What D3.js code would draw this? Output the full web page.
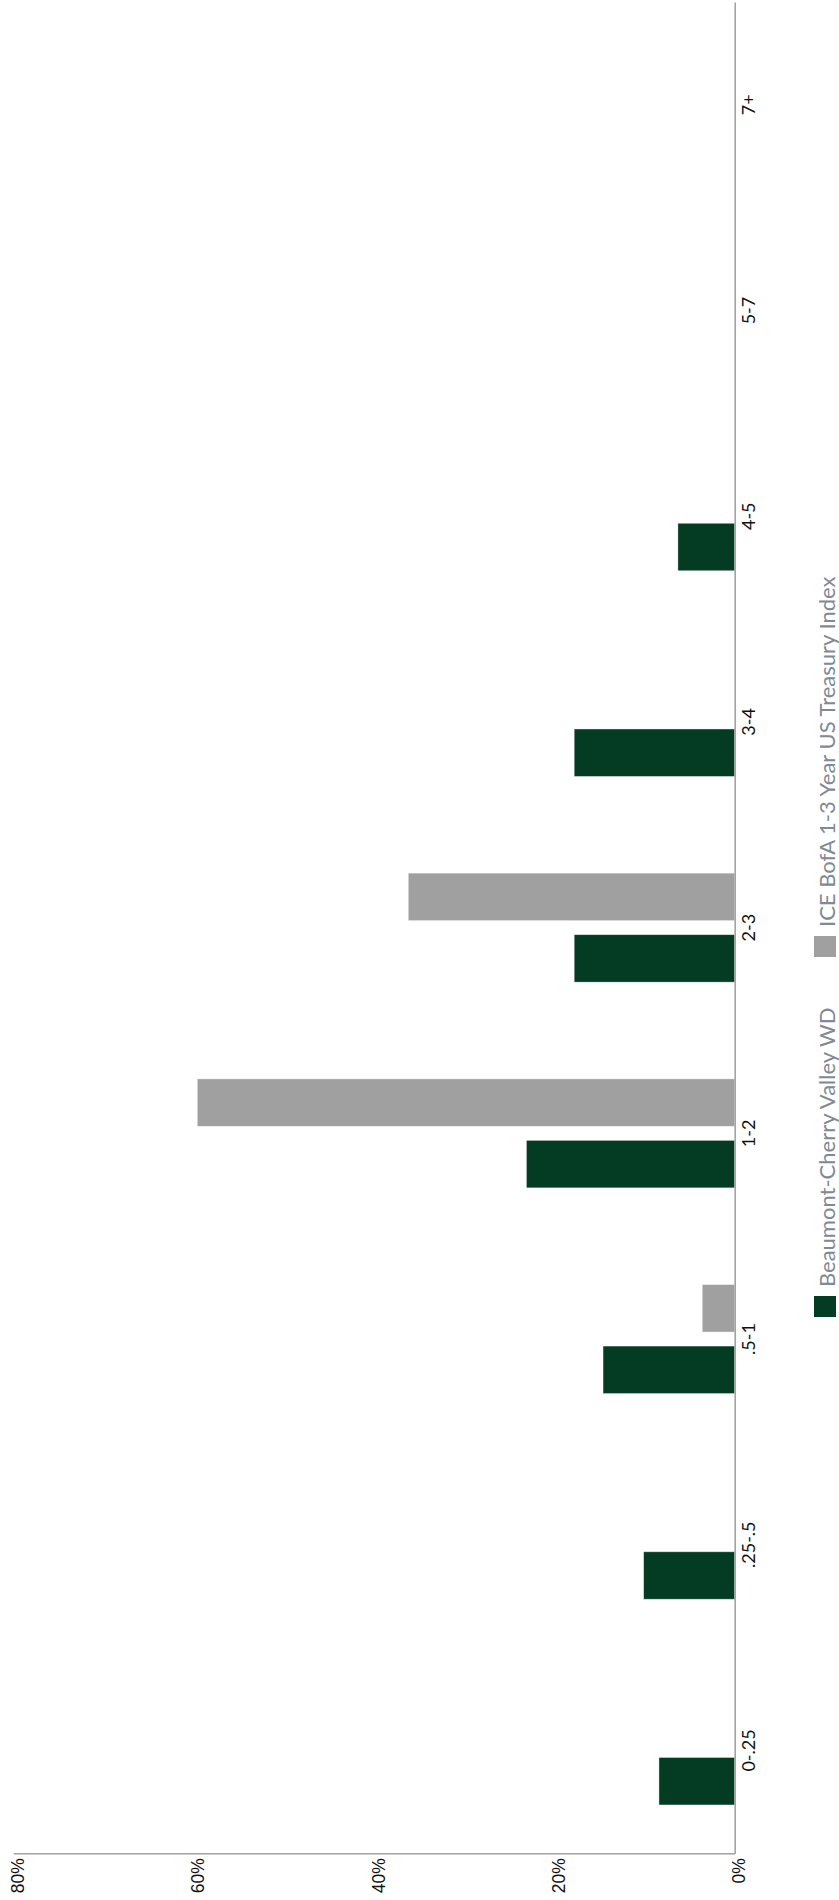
<!DOCTYPE html>
<html>
<head>
<meta charset="utf-8">
<script src="https://cdn.jsdelivr.net/npm/d3@7"></script>
<style>
  html, body { margin: 0; padding: 0; background: #ffffff; }
  svg { display: block; }
</style>
</head>
<body>
<div id="chart"></div>
<script>
// Maturity distribution: portfolio vs. benchmark (drawn rotated a quarter turn)
const categories = ["0-.25", ".25-.5", ".5-1", "1-2", "2-3", "3-4", "4-5", "5-7", "7+"];
const portfolioValues = [0.084, 0.101, 0.146, 0.231, 0.178, 0.178, 0.063, 0, 0];
const benchmarkValues = [0, 0, 0.036, 0.596, 0.362, 0, 0, 0, 0];
const seriesNames = ["Beaumont-Cherry Valley WD", "ICE BofA 1-3 Year US Treasury Index"];
const valueTicks = [0, 0.2, 0.4, 0.6, 0.8];

const W = 839, H = 1900;
const plot = { left: 13.3, zero: 734.7, top: 2, bottom: 1853.3 };
const colors = { port: "#033b23", bench: "#a0a0a0", axis: "#a6a29e", legendText: "#808a94" };

const svg = d3.select("#chart").append("svg")
  .attr("width", W).attr("height", H)
  .attr("viewBox", `0 0 ${W} ${H}`);

svg.append("rect").attr("width", W).attr("height", H).attr("fill", "#ffffff");

// value scale runs right-to-left (0% at the right-hand axis)
const x = d3.scaleLinear().domain([0, 0.8]).range([plot.zero, plot.left]);

// category scale runs bottom-to-top
const y0 = d3.scaleBand().domain(categories)
  .range([plot.bottom, plot.top])
  .paddingInner(0.47).paddingOuter(0.235);

const y1 = d3.scaleBand().domain(["bench", "port"])
  .range([0, y0.bandwidth()])
  .paddingInner(0.228);

const rows = categories.map((c, i) => ({
  cat: c,
  items: [
    { key: "port", value: portfolioValues[i] },
    { key: "bench", value: benchmarkValues[i] }
  ]
}));

// bars
const groups = svg.append("g").attr("class", "bars")
  .selectAll("g").data(rows).join("g")
  .attr("transform", d => `translate(0,${y0(d.cat)})`);

groups.selectAll("rect")
  .data(d => d.items.filter(it => it.value > 0))
  .join("rect")
  .attr("x", d => x(d.value))
  .attr("y", d => y1(d.key))
  .attr("width", d => x(0) - x(d.value))
  .attr("height", y1.bandwidth())
  .attr("fill", d => colors[d.key])
  .attr("stroke", "#ffffff")
  .attr("stroke-opacity", 0.5)
  .attr("stroke-width", 0.8);

// value axis along the bottom
const xAxis = svg.append("g")
  .attr("transform", `translate(0,${plot.bottom})`)
  .call(d3.axisBottom(x).tickValues(valueTicks).tickFormat(d3.format(".0%")).tickSize(0).tickSizeOuter(0));

xAxis.attr("font-family", null).attr("font-size", null);
xAxis.select(".domain").attr("stroke", colors.axis).attr("stroke-width", 1.6);
xAxis.selectAll(".tick text")
  .attr("font-family", "'Liberation Sans', Arial, sans-serif")
  .attr("font-size", 17.5)
  .attr("fill", "#111111")
  .attr("transform", "rotate(-90)")
  .attr("text-anchor", "end")
  .attr("x", -5)
  .attr("y", 4)
  .attr("dy", "0.35em");

// category axis on the right
const yAxis = svg.append("g")
  .attr("transform", `translate(${plot.zero},0)`)
  .call(d3.axisRight(y0).tickSize(0).tickSizeOuter(0));

yAxis.attr("font-family", null).attr("font-size", null);
yAxis.select(".domain").attr("stroke", colors.axis).attr("stroke-width", 1.6);
yAxis.selectAll(".tick text")
  .attr("font-family", "Lato, 'Open Sans', sans-serif")
  .attr("font-size", 18)
  .attr("fill", "#111111")
  .attr("transform", "rotate(-90)")
  .attr("text-anchor", "middle")
  .attr("x", 0)
  .attr("y", 20)
  .attr("dy", 0);

// legend
const legendItems = [
  { key: "port", name: seriesNames[0], boxTop: 1296 },
  { key: "bench", name: seriesNames[1], boxTop: 936 }
];

const legend = svg.append("g").attr("class", "legend");
legendItems.forEach(item => {
  legend.append("rect")
    .attr("x", 814).attr("y", item.boxTop)
    .attr("width", 22).attr("height", 21)
    .attr("fill", colors[item.key]);
  legend.append("text")
    .attr("transform", `translate(835,${item.boxTop - 9}) rotate(-90)`)
    .attr("font-family", "Lato, 'Open Sans', sans-serif")
    .attr("font-size", 22)
    .attr("fill", colors.legendText)
    .attr("text-anchor", "start")
    .text(item.name);
});
</script>
</body>
</html>
